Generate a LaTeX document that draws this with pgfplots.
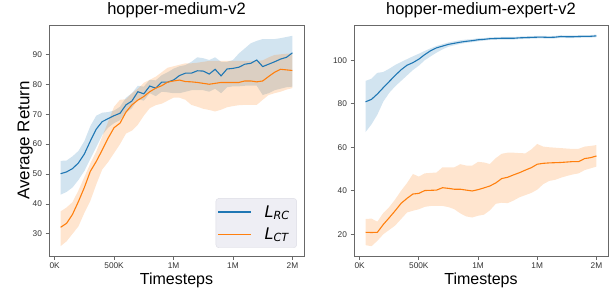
\documentclass[border=0pt]{standalone}
\usepackage{fontspec}
\setmainfont{Liberation Sans}
\newfontfamily\djv{DejaVu Sans}
\usepackage{pgfplots}
\pgfplotsset{compat=1.18}
\usepackage{pgfplotstable}
\usepgfplotslibrary{fillbetween}
\definecolor{tabblue}{HTML}{1F77B4}
\definecolor{taborange}{HTML}{FF7F0E}
\definecolor{spine}{HTML}{686868}
\definecolor{ticktext}{HTML}{333333}
\definecolor{legbg}{HTML}{EEEEF4}
\definecolor{legedge}{HTML}{DCDCE4}

\pgfplotstableread{
t m u l
50 50.1 54.4 43.1
100 50.7 54.5 44.0
150 51.8 55.9 45.5
200 53.7 57.7 48.0
250 56.7 61.0 51.0
300 61.0 66.0 55.0
350 65.0 69.5 59.0
400 67.5 70.5 63.0
450 68.5 70.7 65.5
500 69.5 71.2 67.0
550 70.3 72.5 68.0
600 73.1 75.5 70.5
650 74.4 77.0 72.0
700 77.5 79.5 75.0
750 76.8 79.2 74.5
800 79.4 81.5 77.0
850 78.7 81.3 76.0
900 80.7 83.0 77.5
950 80.7 84.0 77.3
1000 81.4 85.2 77.0
1050 82.9 86.0 77.0
1100 83.7 86.4 77.5
1150 83.7 87.5 78.0
1200 84.5 89.0 78.0
1250 84.4 88.7 78.0
1300 83.4 88.1 77.5
1350 85.0 89.0 78.5
1400 82.8 87.5 77.0
1450 85.1 87.5 79.0
1500 85.3 88.1 79.3
1550 85.7 90.3 79.3
1600 86.7 92.0 79.5
1650 87.0 93.7 79.5
1700 88.1 94.5 79.5
1750 85.9 95.1 76.4
1800 86.7 95.1 77.0
1850 87.5 95.1 78.0
1900 88.4 95.4 78.5
1950 89.0 95.8 79.0
2000 90.5 96.2 79.2
}\lrcA

\pgfplotstableread{
t m u l
50 32.2 37.5 25.9
100 33.5 38.8 27.5
150 36.5 40.6 30.0
200 40.8 44.5 32.5
250 45.5 49.0 37.0
300 50.9 53.5 41.0
350 54.2 57.5 46.5
400 58.0 62.5 51.5
450 62.0 67.5 54.0
500 65.5 72.5 57.0
550 67.0 74.8 60.0
600 70.7 75.0 63.5
650 73.1 77.0 64.5
700 74.7 78.5 66.5
750 75.9 80.5 69.5
800 77.5 81.5 72.0
850 78.7 82.5 73.0
900 79.5 84.0 73.5
950 80.7 85.5 74.5
1000 81.1 86.0 75.5
1050 81.4 86.5 75.5
1100 80.9 87.0 74.8
1150 80.8 87.0 73.1
1200 80.6 87.2 72.5
1250 80.3 87.5 71.8
1300 80.0 87.8 71.4
1350 80.3 87.8 70.9
1400 80.6 87.8 71.5
1450 80.6 87.8 72.3
1500 80.6 87.8 72.7
1550 80.6 87.8 73.0
1600 81.1 87.8 73.1
1650 81.1 87.8 73.1
1700 80.8 87.8 73.1
1750 81.1 88.0 74.8
1800 82.6 89.0 76.4
1850 84.0 89.8 77.0
1900 85.0 90.0 77.5
1950 84.8 90.2 78.2
2000 84.6 90.3 78.7
}\lctA

\pgfplotstableread{
t m u l
50 80.9 90.5 67.0
100 82.0 91.5 70.5
150 84.5 94.2 75.0
200 87.4 94.6 81.0
250 90.2 96.1 85.0
300 93.0 97.8 88.0
350 95.6 99.2 90.5
400 97.7 100.5 93.0
450 98.9 101.8 95.5
500 100.5 103.0 97.5
550 102.6 104.3 100.0
600 104.4 105.5 101.8
650 105.7 106.6 103.5
700 106.5 107.4 105.0
750 107.3 108.2 106.2
800 107.8 108.7 106.9
850 108.3 109.2 107.5
900 108.7 109.5 108.0
950 109.0 109.7 108.3
1000 109.4 110.1 108.7
1050 109.6 110.2 109.0
1100 109.9 110.5 109.3
1150 110.0 110.6 109.4
1200 110.1 110.7 109.5
1250 110.1 110.7 109.5
1300 110.1 110.7 109.5
1350 110.3 110.9 109.7
1400 110.4 111.0 109.8
1450 110.5 111.1 109.9
1500 110.6 111.2 110.0
1550 110.6 111.2 110.0
1600 110.5 111.1 109.9
1650 110.6 111.2 110.0
1700 110.9 111.5 110.3
1750 110.8 111.4 110.2
1800 110.8 111.4 110.2
1850 110.9 111.5 110.3
1900 111.0 111.6 110.4
1950 111.0 111.6 110.4
2000 111.2 111.8 110.6
}\lrcB

\pgfplotstableread{
t m u l
50 20.9 27.0 15.0
100 20.8 27.2 14.5
150 20.9 25.8 17.0
200 24.5 29.8 20.0
250 27.6 32.5 22.0
300 30.8 36.0 24.0
350 34.2 40.0 27.0
400 36.5 43.5 30.0
450 38.5 47.7 30.8
500 38.8 46.5 31.5
550 40.1 48.0 32.6
600 40.2 48.2 33.0
650 40.3 48.4 33.0
700 41.4 50.8 33.0
750 41.1 50.8 32.5
800 40.7 50.8 31.5
850 40.7 52.2 29.6
900 40.3 51.6 28.2
950 39.9 51.5 27.7
1000 40.5 53.3 28.5
1050 41.3 53.0 29.0
1100 42.2 52.3 31.0
1150 43.6 55.0 34.0
1200 45.6 57.0 34.5
1250 46.2 57.5 34.3
1300 47.3 57.5 35.5
1350 48.3 57.3 37.0
1400 49.5 57.2 38.0
1450 50.6 59.0 39.0
1500 52.2 61.5 40.5
1550 52.6 60.3 43.0
1600 52.8 60.0 44.5
1650 52.9 59.8 45.0
1700 53.0 59.6 46.0
1750 53.2 59.4 46.8
1800 53.4 59.2 47.5
1850 53.4 59.3 48.0
1900 54.8 60.3 49.5
1950 55.2 60.6 50.3
2000 56.0 61.0 51.1
}\lctB

\pgfplotsset{mystyle/.style={
  scale only axis, height=231pt,
  xmin=-47.5, xmax=2097.5,
  xtick={0,500,1000,1500,2000}, xticklabels={0K,500K,1M,1M,2M},
  tick align=outside, tick pos=left, major tick length=3.5pt,
  axis line style={spine, line width=0.8pt},
  tick style={spine, line width=0.8pt},
  tick label style={font=\fontsize{8.3}{9}\selectfont, text=ticktext},
  /pgf/number format/assume math mode=true,
  scaled ticks=false,
  title style={font=\fontsize{16.5}{18}\selectfont, at={(axis description cs:0.5,1.0186)}, anchor=base},
  xlabel style={font=\fontsize{16}{18}\selectfont, at={(axis description cs:0.5,-0.1255)}, anchor=base},
  ylabel style={font=\fontsize{17}{19}\selectfont, at={(axis description cs:-0.0765,0.5)}, anchor=base},
  xlabel={Timesteps},
}}

\begin{document}
\begin{tikzpicture}
\begin{axis}[mystyle, at={(49pt,34pt)}, anchor=south west, width=255pt,
  ymin=22.6, ymax=99.8, ytick={30,40,50,60,70,80,90},
  title={hopper-medium-v2}, ylabel={Average Return},
  legend style={at={(axis description cs:0.972,0.035)}, anchor=south east,
    fill=legbg, draw=legedge, rounded corners=3pt,
    font=\djv\itshape\fontsize{16}{16}\selectfont,
    inner xsep=2pt, inner ysep=4pt, row sep=3pt,
    nodes={inner xsep=5pt, inner ysep=3pt}},
  legend cell align=left,
]
\addlegendimage{legend image code/.code={\draw[draw=tabblue, line width=1.1pt] (0pt,0pt) -- (33pt,0pt); \path (41pt,0pt);}}
\addlegendentry{L\textsubscript{RC}}
\addlegendimage{legend image code/.code={\draw[draw=taborange, line width=1.1pt] (0pt,0pt) -- (33pt,0pt); \path (41pt,0pt);}}
\addlegendentry{L\textsubscript{CT}}
\addplot[name path=bu, draw=none, forget plot] table[x=t, y=u] {\lrcA};
\addplot[name path=bl, draw=none, forget plot] table[x=t, y=l] {\lrcA};
\addplot[fill=tabblue, fill opacity=0.2, draw=none, forget plot] fill between[of=bu and bl];
\addplot[name path=ou, draw=none, forget plot] table[x=t, y=u] {\lctA};
\addplot[name path=ol, draw=none, forget plot] table[x=t, y=l] {\lctA};
\addplot[fill=taborange, fill opacity=0.2, draw=none, forget plot] fill between[of=ou and ol];
\addplot[tabblue, line width=1.1pt, forget plot] table[x=t, y=m] {\lrcA};
\addplot[taborange, line width=1.1pt, forget plot] table[x=t, y=m] {\lctA};
\end{axis}

\begin{axis}[mystyle, at={(354pt,34pt)}, anchor=south west, width=254pt,
  ymin=10, ymax=116.2, ytick={20,40,60,80,100},
  title={hopper-medium-expert-v2},
]
\addplot[name path=bu, draw=none, forget plot] table[x=t, y=u] {\lrcB};
\addplot[name path=bl, draw=none, forget plot] table[x=t, y=l] {\lrcB};
\addplot[fill=tabblue, fill opacity=0.2, draw=none, forget plot] fill between[of=bu and bl];
\addplot[name path=ou, draw=none, forget plot] table[x=t, y=u] {\lctB};
\addplot[name path=ol, draw=none, forget plot] table[x=t, y=l] {\lctB};
\addplot[fill=taborange, fill opacity=0.2, draw=none, forget plot] fill between[of=ou and ol];
\addplot[tabblue, line width=1.1pt] table[x=t, y=m] {\lrcB};
\addplot[taborange, line width=1.1pt] table[x=t, y=m] {\lctB};
\end{axis}
\pgfresetboundingbox
\path[use as bounding box] (0,0) rectangle (610pt,290pt);
\end{tikzpicture}
\end{document}
